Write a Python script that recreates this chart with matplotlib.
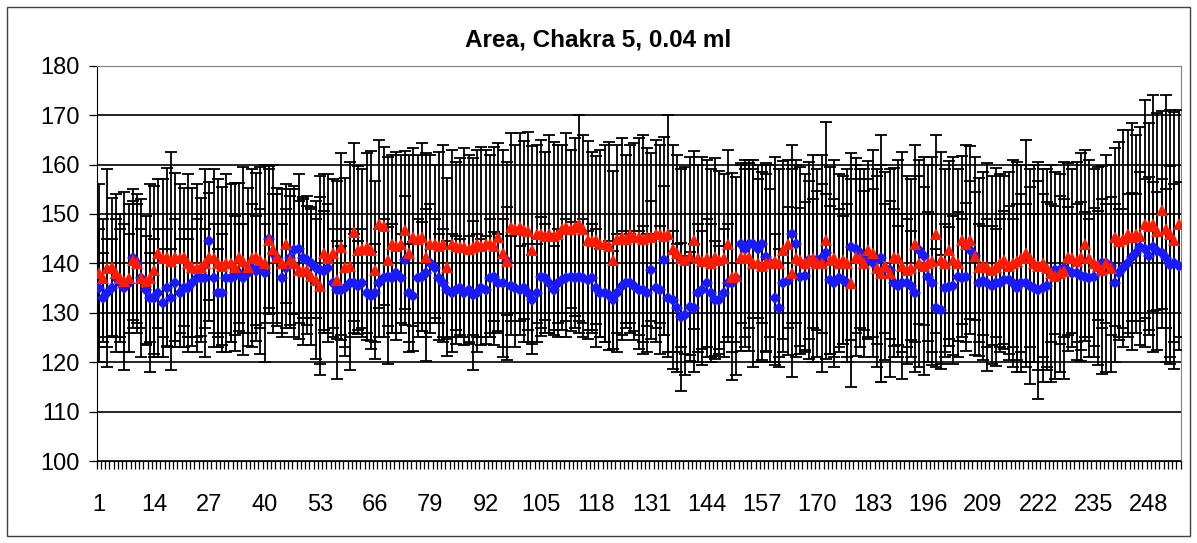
import numpy as np
import matplotlib
matplotlib.use("Agg")
from matplotlib import pyplot as plt
from matplotlib.patches import Rectangle

plt.rcParams['font.family'] = ['Liberation Sans', 'DejaVu Sans']

title = "Area, Chakra 5, 0.04 ml"

blue_mean = [
    135, 133, 134, 135, 137, 136, 135, 136, 141, 140, 137, 134.6, 133, 133, 134,
    132, 135, 133, 136, 134, 135, 135, 136, 137, 137, 137, 144.5, 137, 134, 134,
    137, 137, 137.5, 138, 137, 138, 139, 138.5, 139, 138, 145, 142, 141, 137, 139,
    141, 142.7, 143, 141, 140.6, 140, 139, 138.7, 138.5, 139, 136, 134.6, 134.6, 135, 136,
    136, 135.5, 136, 134, 133.3, 134, 136, 137, 137.3, 137, 138, 137, 140.6, 134, 133.3,
    137, 137.3, 138, 140, 139, 137, 136, 134.6, 134, 134.6, 135, 134, 134.6, 133.5, 134,
    135, 134.6, 137, 137.3, 136, 136, 140.5, 135.5, 135, 134.6, 135, 134, 132.6, 134, 137.3,
    137, 136, 134.6, 136, 136.6, 137, 137.3, 137, 137.3, 137, 136.6, 137, 135, 134, 134,
    133.5, 132.6, 134, 135.5, 136, 136, 135.5, 134.6, 134.6, 134, 138.7, 135, 134.6, 140.6, 133,
    132.6, 131, 129.2, 129.5, 131.2, 131, 134, 134.6, 136, 134, 132.6, 132.6, 134, 136, 136,
    137, 144, 143, 144, 144, 143, 144, 141.3, 140, 133, 131, 136, 136.5, 146, 144,
    137.3, 137.5, 140.6, 140, 140.6, 141, 142, 136.6, 136, 137, 136.6, 136, 143.4, 143, 142,
    140.6, 141, 140, 140.6, 141, 139, 138.7, 136, 135.5, 136, 136, 135.5, 134, 142.7, 141.5,
    137.3, 136, 131, 130.6, 135, 135.3, 135.5, 137.3, 137, 137.3, 142.7, 141.5, 136, 136.5, 136,
    135.5, 136, 136, 136.6, 136.6, 136, 135, 136, 136, 135.5, 135, 134.6, 135, 135.5, 138,
    138.7, 138.7, 139, 138.5, 138, 138, 137.5, 137.3, 137, 137.3, 139.5, 140, 140, 139.5, 136,
    138, 139, 140, 141.3, 142, 143.4, 143, 141.5, 143.4, 142.5, 142, 141, 139.7, 140, 139.5,
]

red_mean = [
    138, 137, 139, 139.3, 138, 137, 136.5, 137, 140.6, 140, 137, 136.5, 137, 138.7, 142,
    141, 141.3, 140.5, 141.3, 141, 141.3, 140, 139.3, 139, 139.3, 140, 141.3, 141, 140, 139.5,
    140, 140, 139.3, 141.3, 140.5, 139.3, 141, 141.3, 140.6, 140, 144.7, 143, 141.3, 140, 144,
    140.6, 140, 138.7, 138.5, 138.7, 137.5, 136.6, 135.5, 142, 141, 142, 136.6, 143.4, 139.3, 139.5,
    146.4, 142.7, 143, 143.4, 142.7, 138.7, 148, 147.5, 140.6, 144, 143.5, 144, 146.7, 142, 145.4,
    145, 145.4, 141.3, 144, 144, 143.5, 144, 139.3, 144, 143.5, 143.4, 143.4, 143, 143.4, 144,
    143.5, 144, 144, 143.5, 145.4, 142, 140.5, 147.4, 147, 147.4, 146.7, 146.5, 142.7, 146, 146,
    145.5, 146, 145.5, 146, 147, 147.4, 147, 147.4, 148, 147, 144.7, 144.5, 144.7, 144, 144,
    143.5, 140.6, 145, 145.4, 145, 146, 145.4, 145.4, 145, 145.4, 145.4, 146, 146, 145.5, 146,
    143, 142, 141, 140.6, 141.5, 144.7, 141, 140.5, 141, 140, 141.3, 140.6, 141, 144, 137.3,
    137.5, 141.3, 141, 141.3, 140, 140, 139.5, 140, 140, 140.5, 140, 142.7, 144, 138, 141,
    140.6, 140, 140.6, 141, 140, 140, 144.7, 140.6, 141, 140, 140.6, 140, 136, 141.3, 141,
    140, 142.7, 142, 139, 138, 139.5, 138, 141.3, 141, 139.5, 138.7, 139, 144, 140, 139.5,
    140, 140.5, 146, 140.6, 140, 142.7, 140.6, 140, 144.7, 144, 144.7, 141.5, 139.3, 139.5, 139.3,
    138.7, 139.3, 140, 140.6, 139.5, 140, 140.5, 141, 142, 141, 140, 139.5, 140, 139, 138,
    137.5, 138, 138.5, 141.3, 141, 140.5, 141.3, 144, 141, 140, 139.5, 138.7, 140, 139, 145.4,
    144.5, 145, 146, 145.4, 146, 145.5, 148, 147.5, 148, 146.5, 150.8, 147, 146, 144.7, 148,
]

# standard deviations for the error bars
blue_err = [
    12, 9, 11, 10, 12, 11, 13, 10, 14, 12, 10, 11, 9, 12, 13,
    11, 12, 10, 13, 11, 12, 10, 11, 12, 13, 10, 12, 11, 9, 12,
    11, 13, 12, 10, 11, 12, 13, 11, 12, 10, 14, 12, 13, 11, 12,
    14, 13, 15, 12, 13, 11, 10, 19, 12, 13, 11, 10, 9, 12, 11,
    10, 9, 11, 8, 9, 10, 11, 12, 10, 11, 12, 9, 13, 10, 11,
    12, 11, 13, 12, 10, 9, 11, 10, 12, 11, 10, 9, 11, 15, 12,
    10, 11, 12, 9, 10, 13, 11, 10, 12, 9, 11, 10, 9, 10, 12,
    11, 10, 9, 11, 10, 12, 11, 10, 9, 12, 10, 11, 12, 9, 10,
    11, 10, 12, 11, 9, 10, 11, 12, 13, 12, 14, 11, 13, 15, 12,
    14, 13, 15, 12, 11, 13, 14, 12, 13, 14, 12, 11, 13, 12, 14,
    13, 16, 18, 17, 15, 14, 16, 19, 15, 13, 12, 14, 15, 18, 16,
    14, 15, 16, 13, 14, 15, 12, 15, 17, 14, 13, 16, 19, 17, 15,
    14, 16, 15, 17, 25, 13, 14, 15, 12, 14, 13, 11, 16, 15, 14,
    13, 14, 12, 11, 13, 12, 14, 13, 12, 15, 14, 13, 12, 11, 13,
    12, 11, 13, 14, 15, 13, 17, 18, 16, 20, 15, 22, 19, 17, 14,
    13, 15, 14, 13, 12, 14, 15, 13, 12, 14, 11, 13, 12, 14, 16,
    13, 12, 14, 13, 12, 15, 14, 16, 13, 12, 15, 14, 20, 16, 17,
]

red_err = [
    18, 12, 20, 14, 16, 13, 18, 15, 12, 14, 16, 13, 19, 17, 15,
    16, 18, 22, 17, 15, 14, 18, 16, 17, 14, 19, 13, 18, 17, 16,
    18, 16, 17, 15, 19, 16, 18, 17, 19, 20, 15, 17, 14, 15, 12,
    13, 15, 14, 15, 13, 14, 16, 18, 16, 17, 15, 20, 19, 18, 21,
    18, 17, 16, 19, 20, 18, 17, 16, 21, 18, 19, 18, 16, 20, 18,
    17, 19, 21, 18, 16, 19, 20, 18, 19, 17, 18, 20, 19, 18, 19,
    20, 19, 18, 20, 19, 21, 20, 19, 17, 19, 18, 20, 21, 18, 19,
    17, 20, 19, 18, 17, 19, 16, 18, 22, 19, 20, 18, 17, 19, 20,
    21, 18, 19, 20, 17, 18, 19, 20, 21, 18, 17, 19, 18, 20, 24,
    21, 20, 18, 19, 20, 18, 19, 21, 20, 19, 20, 18, 17, 19, 21,
    20, 19, 18, 19, 21, 20, 19, 18, 20, 21, 19, 18, 17, 21, 20,
    19, 18, 20, 21, 19, 22, 24, 19, 20, 18, 17, 19, 21, 20, 18,
    19, 18, 21, 20, 22, 19, 21, 18, 20, 23, 19, 18, 20, 21, 22,
    20, 21, 20, 22, 19, 18, 21, 19, 17, 20, 19, 20, 18, 19, 21,
    19, 20, 18, 17, 19, 21, 20, 19, 23, 18, 20, 21, 19, 20, 22,
    21, 20, 22, 19, 18, 20, 21, 19, 20, 19, 20, 21, 22, 21, 18,
    20, 22, 21, 23, 20, 22, 25, 21, 26, 24, 20, 27, 25, 26, 23,
]

x = np.arange(1, len(blue_mean) + 1)
n = len(x)

fig = plt.figure(figsize=(11.97, 5.43), dpi=100)
ax = fig.add_axes([0.0808, 0.151, 0.9056, 0.728])

for mean, err in ((blue_mean, blue_err), (red_mean, red_err)):
    ax.errorbar(x, mean, yerr=err, fmt='none', ecolor='black',
                elinewidth=1.3, capsize=4.5, capthick=1.3, zorder=3)

ax.plot(x, blue_mean, 'D', color='#1a1aff', markersize=6.5, markeredgewidth=0, zorder=4)
ax.plot(x, red_mean, '^', color='#ff1a00', markersize=8.5, markeredgewidth=0, zorder=5)

ax.set_xlim(0.5, n + 0.5)
ax.set_ylim(100, 180)

# category boundaries get the tick marks, labels every 13th category
ax.set_xticks(np.arange(0.5, n + 1), minor=True)
ax.set_xticks(x[::13])
ax.set_xticklabels([str(v) for v in x[::13]])
ax.tick_params(axis='x', which='minor', length=6, width=0.9, direction='out')
ax.tick_params(axis='x', which='major', length=0, pad=24, labelsize=17)

ax.set_yticks(np.arange(100, 181, 10))
ax.tick_params(axis='y', length=6, width=0.9, direction='out', labelsize=17, pad=6)
ax.yaxis.grid(True, color='black', linewidth=1.2)
ax.set_axisbelow(True)

for side in ('top', 'right'):
    ax.spines[side].set_color('#808080')
for side in ('left', 'bottom'):
    ax.spines[side].set_color('black')

fig.text(0.5, 0.926, title, ha='center', va='center', fontsize=17.5, fontweight='bold')

fig.patches.append(Rectangle((0.006, 0.012), 0.988, 0.976, transform=fig.transFigure,
                             fill=False, edgecolor='#404040', linewidth=1.0))

fig.savefig('out.png', dpi=100)
